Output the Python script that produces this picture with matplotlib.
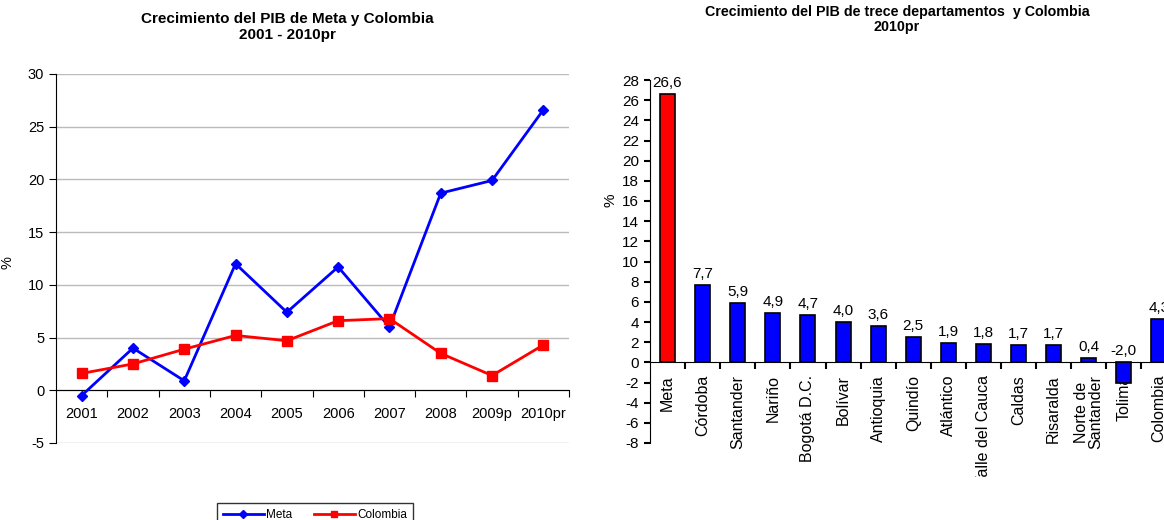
import numpy as np
import matplotlib.pyplot as plt
from matplotlib.transforms import Bbox, blended_transform_factory

plt.rcParams['font.family'] = ['Liberation Sans', 'DejaVu Sans']
plt.rcParams['axes.unicode_minus'] = False

# Left chart data
years = ["2001", "2002", "2003", "2004", "2005", "2006", "2007", "2008", "2009p", "2010pr"]
meta = [-0.5, 4.0, 0.9, 12.0, 7.4, 11.7, 6.0, 18.7, 19.9, 26.6]
colombia = [1.6, 2.5, 3.9, 5.2, 4.7, 6.6, 6.8, 3.5, 1.4, 4.3]

# Right chart data
deptos = ["Meta", "Córdoba", "Santander", "Nariño", "Bogotá D.C.", "Bolívar", "Antioquia",
          "Quindío", "Atlántico", "Valle del Cauca", "Caldas", "Risaralda",
          "Norte de\nSantander", "Tolima", "Colombia"]
crec = [26.6, 7.7, 5.9, 4.9, 4.7, 4.0, 3.6, 2.5, 1.9, 1.8, 1.7, 1.7, 0.4, -2.0, 4.3]

fig = plt.figure(figsize=(11.64, 5.2), dpi=100)

# ---- left: line chart
ax1 = fig.add_axes([56/1164, 1-443/520, 513/1164, 369/520])
x = np.arange(len(years))
ax1.plot(x, meta, color='#0000FF', lw=2, marker='D', ms=5.5, label='Meta', zorder=3)
ax1.plot(x, colombia, color='#FF0000', lw=2, marker='s', ms=7, label='Colombia', zorder=3)
ax1.set_xlim(-0.5, len(years)-0.5)
ax1.set_ylim(-5, 30)
ax1.set_yticks(np.arange(-5, 31, 5))
ax1.yaxis.grid(True, color='#BBBBBB', lw=1)
ax1.set_axisbelow(True)
for s in ['top', 'right']:
    ax1.spines[s].set_visible(False)
ax1.spines['bottom'].set_position(('data', 0))
ax1.set_xticks(np.arange(0.5, len(years)-0.5+0.01, 1))
ax1.set_xticklabels([])
ax1.set_xticks(x, minor=True)
ax1.set_xticklabels(years, minor=True)
ax1.tick_params(axis='x', which='major', direction='out', length=5)
ax1.tick_params(axis='x', which='minor', length=0, pad=12, labelsize=10.5)
ax1.tick_params(axis='y', direction='out', length=5, labelsize=10.5)
ax1.set_ylabel('%', fontsize=10.5)
ax1.yaxis.set_label_coords(-0.08, 0.49)
fig.text(287/1164, 1-12/520, 'Crecimiento del PIB de Meta y Colombia\n2001 - 2010pr',
         ha='center', va='top', fontsize=11, fontweight='bold', linespacing=1.15)
fig.legend(loc='upper center', bbox_to_anchor=(315/1164, 1-497/520), ncol=2,
           fontsize=8.5, frameon=True, fancybox=False, edgecolor='black',
           handlelength=3.5, columnspacing=1.8, handletextpad=0.2, markerscale=0.7,
           borderpad=0.5)

# ---- right: bar chart
ax2 = fig.add_axes([650/1164, 1-443/520, 15*35.1/1164, 363/520])
xb = np.arange(len(deptos))
colors = ['#FF0000'] + ['#0000FF'] * (len(deptos)-1)
ax2.bar(xb, crec, width=0.43, color=colors, edgecolor='black', lw=1.2, zorder=3)
ax2.set_xlim(-0.5, len(deptos)-0.5)
ax2.set_ylim(-8, 28)
ax2.set_yticks(np.arange(-8, 29, 2))
for s in ['top', 'right']:
    ax2.spines[s].set_visible(False)
ax2.spines['bottom'].set_position(('data', 0))
ax2.spines['bottom'].set_zorder(2)
ax2.set_xticks(np.arange(0.5, len(deptos)-0.5, 1))
ax2.set_xticklabels([])
ax2.tick_params(axis='x', which='major', direction='out', length=5, width=1.5)
ax2.tick_params(axis='y', direction='out', length=4, width=1.5, labelsize=11, pad=4)

# category names as rotated texts hanging below the zero line
trans = blended_transform_factory(ax2.transData, fig.transFigure)
clip = fig.transFigure.transform_bbox(Bbox.from_extents(0, 1-477/520, 1, 1))
for xi, name in zip(xb, deptos):
    t = ax2.text(xi, 1-375/520, name, transform=trans, rotation=90, ha='center',
                 va='top', fontsize=11.5, linespacing=0.9, zorder=1)
    t.set_clip_box(clip)
    t.set_clip_on(True)

for xi, v in zip(xb, crec):
    ypos = v + 0.4 if v > 0 else 0.4
    ax2.text(xi, ypos, f"{v:.1f}".replace('.', ','), ha='center', va='bottom',
             fontsize=11, zorder=4, clip_on=False)
ax2.set_ylabel('%', fontsize=11)
ax2.yaxis.set_label_coords(-0.062, 0.67)
fig.text(897/1164, 1-5/520, 'Crecimiento del PIB de trece departamentos  y Colombia\n2010pr',
         ha='center', va='top', fontsize=10.3, fontweight='bold', linespacing=1.1)

fig.savefig('out.png', dpi=100)
